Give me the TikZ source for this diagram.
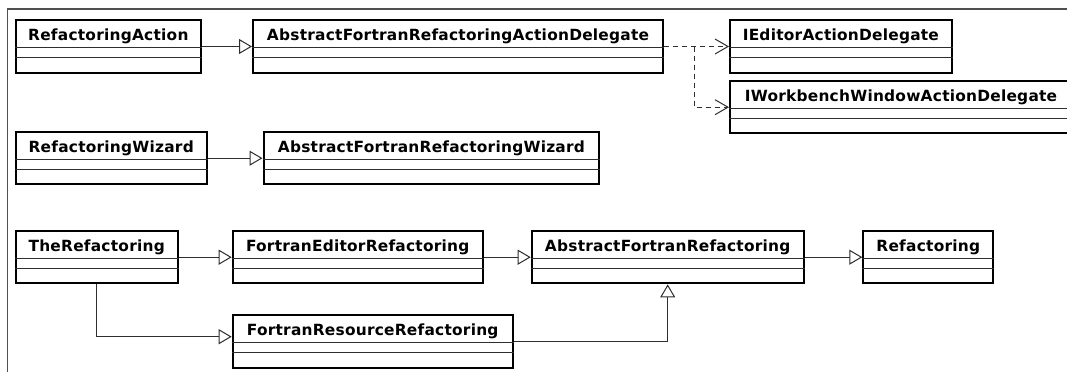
\documentclass[tikz,border=0pt]{standalone}
\usepackage{fontspec}
\newfontfamily\umlfont{DejaVu Sans}[LetterSpace=1.5]
\usetikzlibrary{arrows.meta}

\definecolor{edge}{HTML}{2E2E2E}
\definecolor{framegray}{HTML}{505050}

\tikzset{
  classbox/.style={rectangle, draw=black, line width=2pt, fill=white,
    inner sep=0pt, minimum height=52.4pt, anchor=north west},
  classname/.style={font=\umlfont\bfseries\fontsize{15.4}{18}\selectfont,
    inner sep=0pt, anchor=base},
  compartment/.style={draw=edge, line width=1pt},
  generalization/.style={draw=edge, line width=1pt,
    -{Triangle[open, length=13pt, width=15pt, fill=white]}},
  realization/.style={draw=edge, line width=1pt, dash pattern=on 5pt off 4pt,
    -{Straight Barb[length=13pt, width=15pt]}},
  frameline/.style={draw=framegray, line width=1.2pt},
}

% class box: name, x, y (top left), width, title
\newcommand\umlclass[5]{%
  \node[classbox, minimum width=#4pt] (#1) at (#2,#3) {};
  \node[classname] (#1-name) at ([yshift=-21.4pt]#1.north) {#5};
  \draw[compartment] ([yshift=-28.2pt]#1.north west) -- ([yshift=-28.2pt]#1.north east);
  \draw[compartment] ([yshift=-38.2pt]#1.north west) -- ([yshift=-38.2pt]#1.north east);
}

\begin{document}
\begin{tikzpicture}[x=1pt, y=-1pt]
  \useasboundingbox (0,0) rectangle (1067,372);
  \fill[white] (0,0) rectangle (1067,372);

  % diagram frame
  \draw[frameline] (7.3,372) -- (7.3,9) -- (1067,9);

  % action classes
  \umlclass{RA}{14.7}{19.3}{185.3}{RefactoringAction}
  \umlclass{AFRAD}{252}{19.3}{410}{AbstractFortranRefactoringActionDelegate}
  \umlclass{IEAD}{729}{19.3}{221.7}{IEditorActionDelegate}
  \umlclass{IWWAD}{729}{80}{342}{IWorkbenchWindowActionDelegate}

  % wizard classes
  \umlclass{RW}{14.7}{131}{191}{RefactoringWizard}
  \umlclass{AFRW}{262.5}{131}{335.8}{AbstractFortranRefactoringWizard}

  % refactoring classes
  \umlclass{TR}{14.7}{230}{162}{TheRefactoring}
  \umlclass{FER}{231.7}{230}{250}{FortranEditorRefactoring}
  \umlclass{AFR}{530.7}{230}{272}{AbstractFortranRefactoring}
  \umlclass{R}{862.3}{230}{130}{Refactoring}
  \umlclass{FRR}{231.7}{314.3}{280}{FortranResourceRefactoring}

  % generalizations
  \draw[generalization] (RA.east) -- (AFRAD.west);
  \draw[generalization] (RW.east) -- (AFRW.west);
  \draw[generalization] (TR.east) -- (FER.west);
  \draw[generalization] (FER.east) -- (AFR.west);
  \draw[generalization] (AFR.east) -- (R.west);
  \coordinate (frrIn) at ([yshift=4.8pt]FRR.west);
  \draw[generalization] (TR.south) |- (frrIn);
  \draw[generalization] (FRR.east) -| (AFR.south);

  % interface realizations
  \path (AFRAD.east) ++(30.3,0) coordinate (fork);
  \draw[realization] (AFRAD.east) -- (IEAD.west);
  \draw[realization] (fork) |- (IWWAD.west);
\end{tikzpicture}
\end{document}
